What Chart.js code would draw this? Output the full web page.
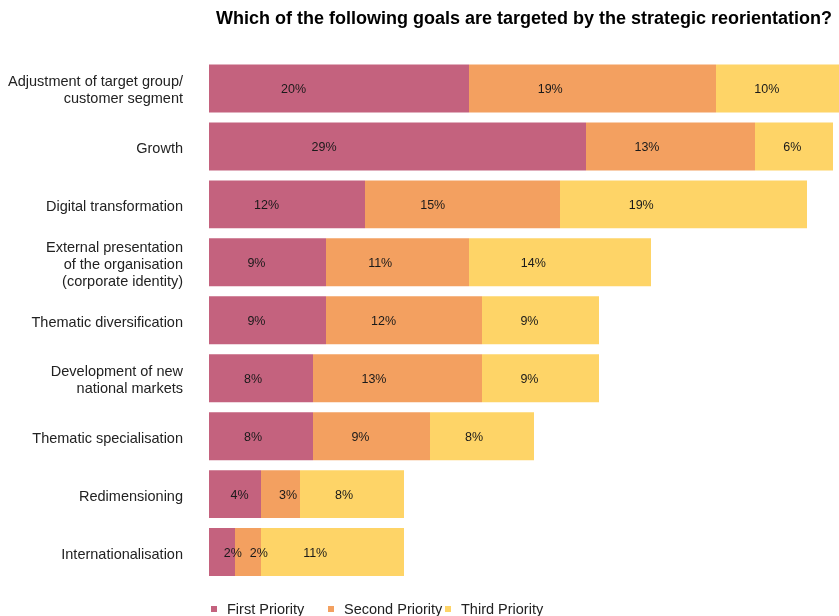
<!DOCTYPE html>
<html>
<head>
<meta charset="utf-8">
<title>Strategic reorientation goals</title>
<script src="https://cdn.jsdelivr.net/npm/chart.js@4/dist/chart.umd.min.js"></script>
<style>
  html, body { margin: 0; padding: 0; background: #fff; }
  canvas { display: block; }
</style>
</head>
<body>
<canvas id="grafico" width="839" height="616"></canvas>
<script>
// Goals (one bar each) and share of answers per priority, in %
const categories = [
    ['Adjustment of target group/', 'customer segment'],
    'Growth',
    'Digital transformation',
    ['External presentation', 'of the organisation', '(corporate identity)'],
    'Thematic diversification',
    ['Development of new', 'national markets'],
    'Thematic specialisation',
    'Redimensioning',
    'Internationalisation'
];
const firstPriority  = [20, 29, 12, 9, 9, 8, 8, 4, 2];
const secondPriority = [19, 13, 15, 11, 12, 13, 9, 3, 2];
const thirdPriority  = [10, 6, 19, 14, 9, 9, 8, 8, 11];
const seriesNames = ['First Priority', 'Second Priority', 'Third Priority'];

const titleText = 'Which of the following goals are targeted by the strategic reorientation?';
const colors = ['#C4627E', '#F3A060', '#FED467'];
const fontFamily = '"Liberation Sans", Arial, Helvetica, sans-serif';

// Value labels inside each segment, slightly left of centre
const segmentLabels = {
    id: 'segmentLabels',
    afterDatasetsDraw(chart) {
        const ctx = chart.ctx;
        ctx.save();
        ctx.font = '12.5px ' + fontFamily;
        ctx.fillStyle = '#1a1a1a';
        ctx.textAlign = 'center';
        ctx.textBaseline = 'middle';
        chart.data.datasets.forEach((ds, i) => {
            chart.getDatasetMeta(i).data.forEach((bar, j) => {
                const start = bar.base;
                const w = bar.x - bar.base;
                ctx.fillText(ds.data[j] + '%', start + 0.26 * w + 17, bar.y + 1);
            });
        });
        ctx.restore();
    }
};

// Title over the plot area and the legend row at the bottom
const titleAndLegend = {
    id: 'titleAndLegend',
    afterDraw(chart) {
        const ctx = chart.ctx;
        const area = chart.chartArea;
        ctx.save();
        ctx.fillStyle = '#000';
        ctx.font = 'bold 18px ' + fontFamily;
        ctx.textAlign = 'center';
        ctx.textBaseline = 'middle';
        ctx.fillText(titleText, (area.left + area.right) / 2, 19);

        ctx.font = '14.5px ' + fontFamily;
        ctx.textAlign = 'left';
        seriesNames.forEach((name, i) => {
            const x = 211 + i * 117;
            ctx.fillStyle = colors[i];
            ctx.fillRect(x, 606, 6, 6);
            ctx.fillStyle = '#222';
            ctx.fillText(name, x + 16, 610);
        });
        ctx.restore();
    }
};

new Chart(document.getElementById('grafico').getContext('2d'), {
    type: 'bar',
    data: {
        labels: categories,
        datasets: [
            { label: seriesNames[0], data: firstPriority, backgroundColor: colors[0] },
            { label: seriesNames[1], data: secondPriority, backgroundColor: colors[1] },
            { label: seriesNames[2], data: thirdPriority, backgroundColor: colors[2] }
        ]
    },
    options: {
        indexAxis: 'y',
        responsive: false,
        animation: false,
        layout: { padding: { top: 59.5, bottom: 25.5, left: 0, right: 0 } },
        datasets: {
            bar: { categoryPercentage: 1, barPercentage: 48 / 58, borderWidth: 0 }
        },
        plugins: {
            legend: { display: false },
            title: { display: false },
            tooltip: { enabled: false }
        },
        scales: {
            x: {
                stacked: true,
                display: false,
                min: 0,
                max: 630 / 13
            },
            y: {
                stacked: true,
                grid: { display: false },
                border: { display: false },
                afterFit(scale) { scale.width = 209; },
                ticks: {
                    padding: 18,
                    labelOffset: 2.5,
                    color: '#222',
                    font: { size: 14.5, family: fontFamily, lineHeight: 1.17 }
                }
            }
        }
    },
    plugins: [segmentLabels, titleAndLegend]
});
</script>
</body>
</html>
